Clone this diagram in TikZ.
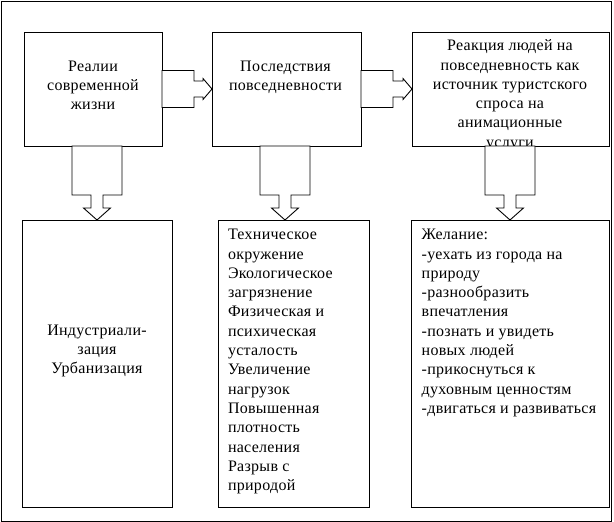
\documentclass[tikz,border=0pt]{standalone}
\usepackage{fontspec}
\setmainfont[LetterSpace=1.8]{Liberation Serif}
\usetikzlibrary{calc}
\tikzset{
  box/.style={draw, line width=0.9pt, inner sep=0pt, outer sep=0pt},
  blockarrow/.style={draw, fill=white, line width=0.9pt, line join=miter},
  txt/.style={inner sep=0pt, outer sep=0pt, font=\fontsize{16}{19.3}\selectfont}
}
\newcommand\ctext[2]{\vtop{\hsize=#1\relax\parindent=0pt\baselineskip=19.3pt\centering #2\par}}
\newcommand\ltext[1]{\vtop{\hsize=200pt\relax\parindent=0pt\baselineskip=19.3pt\raggedright #1\par}}
% horizontal block arrow: #1 start (left, centre line), #2 tip
\newcommand\harrow[2]{\draw[blockarrow] let \p1=(#1), \p2=(#2) in
  (\x1,\y1+18.5pt) -- (\x1+32pt,\y1+18.5pt) -- (\x1+32pt,\y1+8pt) -- (\x2-9pt,\y1+8pt)
  -- (\x2-9pt,\y1+10.5pt) -- (\x2,\y1) -- (\x2-9pt,\y1-10.5pt) -- (\x2-9pt,\y1-8pt)
  -- (\x1+32pt,\y1-8pt) -- (\x1+32pt,\y1-18.5pt) -- (\x1,\y1-18.5pt) -- cycle;}
% vertical block arrow: #1 start (top, centre line), #2 tip
\newcommand\varrow[2]{\draw[blockarrow] let \p1=(#1), \p2=(#2) in
  (\x1-25pt,\y1) -- (\x1+25pt,\y1) -- (\x1+25pt,\y1-49pt) -- (\x1+6pt,\y1-49pt)
  -- (\x1+6pt,\y2+12pt) -- (\x1+13.5pt,\y2+12pt) -- (\x1,\y2) -- (\x1-13.5pt,\y2+12pt)
  -- (\x1-6pt,\y2+12pt) -- (\x1-6pt,\y1-49pt) -- (\x1-25pt,\y1-49pt) -- cycle;}
\begin{document}
\begin{tikzpicture}[x=1pt,y=-1pt]
\useasboundingbox (0,0) rectangle (614,522);
\node[box, minimum width=610pt, minimum height=520pt] (frame) at (306,261) {};
% top row
\node[box, minimum width=138pt, minimum height=114pt] (b1) at (93,89) {};
\node[box, minimum width=149pt, minimum height=114pt] (b2) at (286.5,89) {};
\node[box, minimum width=197pt, minimum height=114pt] (b3) at (510.5,89) {};
% bottom row
\node[box, minimum width=150pt, minimum height=287pt] (b4) at (97,363.5) {};
\node[box, minimum width=151pt, minimum height=287pt] (b5) at (293.5,363.5) {};
\node[box, minimum width=198pt, minimum height=287pt] (b6) at (510,363.5) {};
% texts
\node[txt, anchor=base] (t1) at (93,71) {\ctext{130pt}{Реалии\\современной\\жизни}};
\node[txt, anchor=base] (t2) at (285.5,71) {\ctext{145pt}{Последствия\\повседневности}};
\node[txt, anchor=base] (t3) at (510,50.7) {\ctext{190pt}{Реакция людей на\\повседневность как\\источник туристского\\спроса на\\анимационные\\услуги}};
\node[txt, anchor=base] (t4) at (97,335) {\ctext{145pt}{Индустриали-\\зация\\Урбанизация}};
\node[txt, anchor=base west] (t5) at (228,239.7) {\ltext{Техническое\\окружение\\Экологическое\\загрязнение\\Физическая и\\психическая\\усталость\\Увеличение\\нагрузок\\Повышенная\\плотность\\населения\\Разрыв с\\природой}};
\node[txt, anchor=base west] (t6) at (421.7,239.7) {\ltext{Желание:\\-уехать из города на\\природу\\-разнообразить\\впечатления\\-познать и увидеть\\новых людей\\-прикоснуться к\\духовным ценностям\\-двигаться и развиваться}};
% arrow anchors
\coordinate (v1) at (b4.north |- b1.south);
\coordinate (v2) at ($(b2.south)+(-1.5,0)$);
\coordinate (v3) at (b6.north |- b3.south);
% arrows
\harrow{b1.east}{b2.west}
\harrow{b2.east}{b3.west}
\varrow{v1}{v1 |- b4.north}
\varrow{v2}{v2 |- b5.north}
\varrow{v3}{v3 |- b6.north}
\end{tikzpicture}
\end{document}
